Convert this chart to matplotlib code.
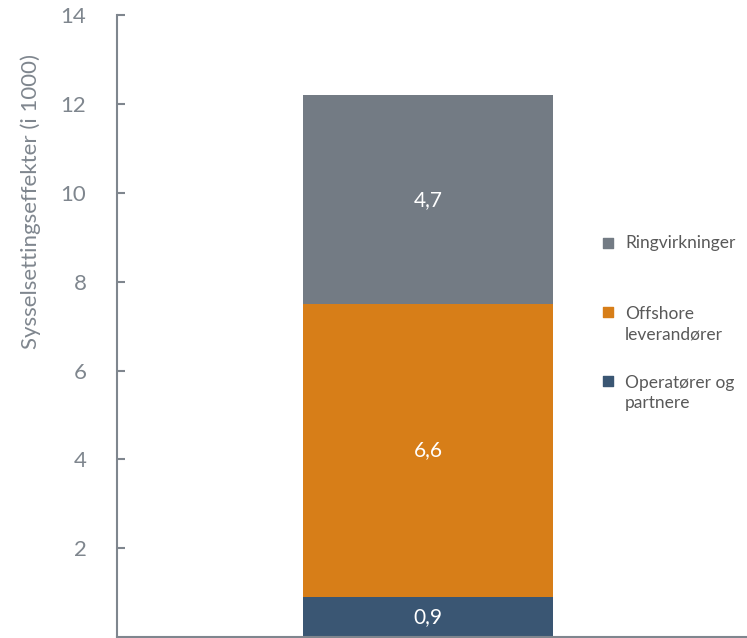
import matplotlib.pyplot as plt
import numpy as np

plt.rcParams['font.family'] = ['Lato', 'DejaVu Sans']

# data
series = ['Operatører og\npartnere', 'Offshore\nleverandører', 'Ringvirkninger']
values = [0.9, 6.6, 4.7]
colors = ['#3A5673', '#D77E18', '#737B84']
yticks = [2, 4, 6, 8, 10, 12, 14]

grey = '#7F868E'

fig = plt.figure(figsize=(7.47, 6.38), dpi=100)
ax = fig.add_axes([117/747, 1/638, 630/747, 621.6/638])

bottom = 0
for v, c in zip(values, colors):
    bars = ax.bar([0.494], [v], width=0.397, bottom=bottom, color=c)
    ax.bar_label(bars, labels=[f'{v:.1f}'.replace('.', ',')], label_type='center',
                 color='white', fontsize=15)
    bottom += v

ax.set_xlim(0, 1)
ax.set_ylim(0, 14)
ax.set_yticks(yticks)
ax.set_xticks([])
ax.tick_params(axis='y', direction='in', length=6, width=1.5, color=grey,
               labelcolor=grey, labelsize=16, pad=22)
for s in ['top', 'right']:
    ax.spines[s].set_visible(False)
for s in ['left', 'bottom']:
    ax.spines[s].set_color(grey)
    ax.spines[s].set_linewidth(1.5)

ax.set_ylabel('Sysselsettingseffekter (i 1000)', fontsize=16, color=grey)
ax.yaxis.set_label_coords(-0.12, 0.70)

# legend by hand (top to bottom)
leg_y = [243, 324, 393]
for name, c, y in zip(series[::-1], colors[::-1], leg_y):
    yf = (637 - y) / 621.6
    first = y if '\n' not in name else y - 12
    ax.scatter([(608 - 117) / 630], [(637 - first) / 621.6], marker='s', s=55,
               color=c, transform=ax.transAxes, clip_on=False)
    ax.text((625 - 117) / 630, yf, name, transform=ax.transAxes, va='center',
            ha='left', fontsize=12.5, color='#595959', linespacing=1.38)

fig.savefig('out.png', dpi=100)
